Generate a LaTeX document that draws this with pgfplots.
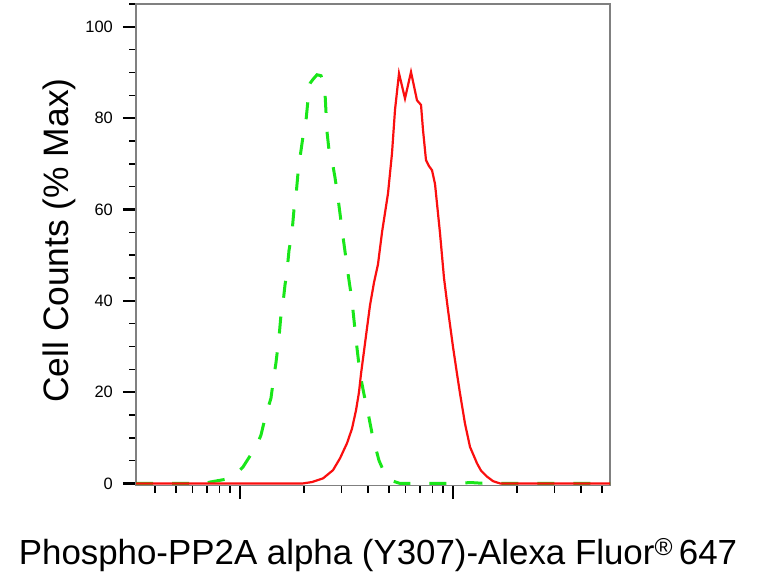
\documentclass[border=0pt]{standalone}
\usepackage{fontspec}
\setmainfont{Liberation Sans}
\usepackage{pgfplots}
\pgfplotsset{compat=1.18}
\definecolor{fgreen}{RGB}{25,230,25}
\definecolor{fred}{RGB}{250,15,15}
\definecolor{axgray}{RGB}{128,128,128}
\begin{document}
\begin{tikzpicture}
\useasboundingbox (0,0) rectangle (757bp,583bp);
\begin{axis}[
  at={(136bp,97.3bp)}, anchor=south west,
  scale only axis, width=474bp, height=481.7bp,
  xmin=2.5117, xmax=4.7371, ymin=-0.5, ymax=105,
  axis line style={axgray, line width=1.5bp},
  tick align=outside, tick pos=left,
  xtick={3,4}, xticklabels={},
  minor xtick={2.602,2.699,2.778,2.845,2.903,2.954,3.301,3.477,3.602,3.699,3.778,3.845,3.903,3.954,4.301,4.477,4.602,4.699},
  ytick={0,20,40,60,80,100},
  minor ytick={5,10,15,25,30,35,45,50,55,65,70,75,85,90,95,105},
  major tick length=13bp, minor tick length=7bp,
  major tick style={black, line width=2.5bp},
  minor tick style={black, line width=1.5bp},
  /pgf/number format/assume math mode=true,
  yticklabel style={font=\fontsize{16.5}{16.5}\selectfont, inner sep=0pt, xshift=-10bp},
  xlabel={Phospho-PP2A alpha (Y307)-Alexa Fluor\textsuperscript{\textregistered}\,647},
  xlabel style={at={(axis description cs:0.5105,-0.1646)}, anchor=base, font=\fontsize{35}{40}\selectfont, inner sep=0pt},
  ylabel={Cell Counts (\% Max)},
  ylabel style={at={(axis description cs:-0.1624,0.509)}, anchor=center, font=\fontsize{35.5}{40}\selectfont, inner sep=0pt},
]
% control (green dashed)
\addplot[fgreen, line width=3bp, dash pattern=on 17bp off 19bp] coordinates {
(2.5117,0) (2.8357,0) (2.8592,0.3) (2.9437,1.0) (2.9812,2) (3.0141,3.6) (3.0563,6.7)
(3.0845,9) (3.0986,10.6) (3.1174,14.3) (3.1315,16.5) (3.1455,18.7) (3.1549,22)
(3.1690,26.5) (3.1831,32) (3.1925,37) (3.2019,39.5) (3.2113,43.5) (3.2207,46.5)
(3.2300,51) (3.2441,55) (3.2535,60) (3.2629,63) (3.2723,68) (3.2817,71.4)
(3.2958,76) (3.3099,79.5) (3.3192,84) (3.3286,87.6) (3.3427,88.5) (3.3615,89.5)
(3.3803,89.3) (3.3897,88) (3.3991,85.5) (3.4085,77) (3.4178,73) (3.4319,70.8)
(3.4460,67) (3.4601,62.5) (3.4836,54) (3.5070,46) (3.5258,40) (3.5446,31.5)
(3.5634,24) (3.5822,19.5) (3.6009,15.5) (3.6197,11) (3.6385,7.5) (3.6526,5)
(3.6714,3) (3.6854,1.4) (3.7183,0.5) (3.7512,0) (4.0329,0) (4.0798,0.2)
(4.1502,0) (4.7371,0)
};
% sample (red solid)
\addplot[fred, line width=2.2bp] coordinates {
(2.5117,0) (3.2958,0) (3.3380,0.3) (3.3897,1.1) (3.4366,2.9) (3.4695,5.5)
(3.5023,8.8) (3.5258,12) (3.5446,16) (3.5587,20) (3.5681,24) (3.5822,29)
(3.5962,34) (3.6103,39) (3.6291,44) (3.6479,48) (3.6667,55) (3.6948,63.5)
(3.7136,72.3) (3.7277,81.8) (3.7465,89.8) (3.7746,84.3) (3.8028,90.1)
(3.8310,83.9) (3.8498,82.9) (3.8592,77.4) (3.8732,70.8) (3.8873,69.5)
(3.9014,68.6) (3.9155,65.6) (3.9390,54.8) (3.9577,45) (3.9765,38) (4.0,29.9)
(4.0188,24) (4.0329,19.7) (4.0563,13.1) (4.0798,8) (4.1127,4.4) (4.1315,2.8)
(4.1596,1.5) (4.1878,0.5) (4.2207,0) (4.7371,0)
};
\end{axis}
\end{tikzpicture}
\end{document}
